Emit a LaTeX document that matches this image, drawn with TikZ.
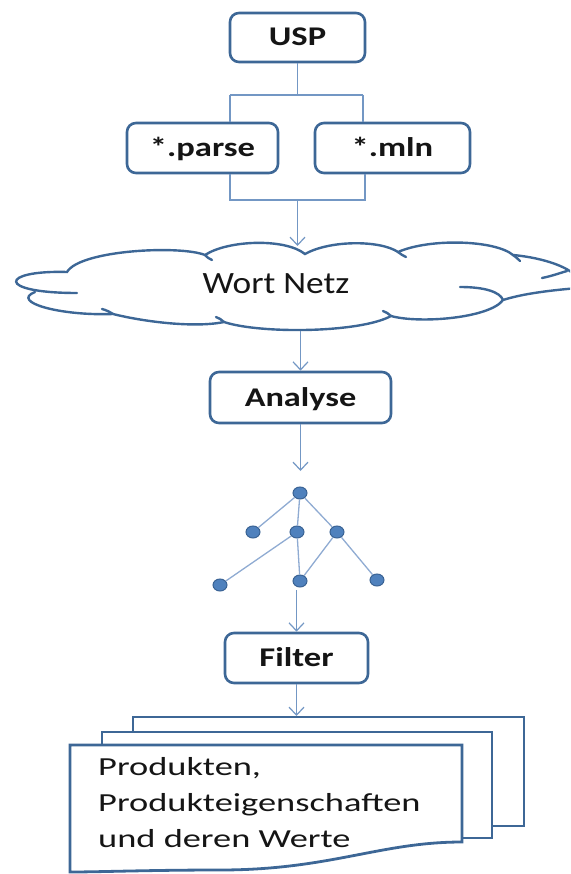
\documentclass[tikz,border=0pt]{standalone}
\usepackage{fontspec}
\setmainfont{Carlito}
\usetikzlibrary{arrows.meta,shapes.geometric}
\definecolor{boxline}{HTML}{3D6796}
\definecolor{connline}{HTML}{7397C4}
\definecolor{treeline}{HTML}{8FABD2}
\definecolor{dotfill}{HTML}{4F81BD}
\definecolor{dotline}{HTML}{3A6394}
\definecolor{ink}{HTML}{151515}
\newcommand{\wide}[2]{\scalebox{#1}[1]{#2}}
\begin{document}
\begin{tikzpicture}[x=1pt,y=-1pt,
  stepbox/.style={draw=boxline, line width=2.6pt, rounded corners=9pt, fill=white,
    inner sep=0pt, text=ink, font=\fontsize{27}{32}\selectfont\bfseries,
    text height=17pt, text depth=0pt},
  conn/.style={draw=connline, line width=1.2pt},
  arr/.style={conn, -{Straight Barb[length=8pt,width=15pt]}},
  cloudline/.style={draw=boxline, line width=2.4pt, line cap=round},
  pageline/.style={draw=boxline, line width=2.8pt, fill=white, line join=miter},
  treeedge/.style={draw=treeline, line width=1.3pt},
  dot/.style={ellipse, draw=dotline, fill=dotfill, line width=1pt,
    minimum width=14pt, minimum height=12pt, inner sep=0pt}]
\path[use as bounding box] (0,0) rectangle (570,874);
\clip (0,0) rectangle (570,874);

% --- process boxes
\node[stepbox, minimum width=135pt, minimum height=49pt] (usp) at (297.5,37.5) {\wide{1.28}{USP}};
\node[stepbox, minimum width=151pt, minimum height=50pt] (parse) at (202.5,148) {\wide{1.28}{*.parse}};
\node[stepbox, minimum width=155pt, minimum height=50pt] (mln) at (392.5,148) {\wide{1.28}{*.mln}};
\node[stepbox, minimum width=181pt, minimum height=51pt] (analyse) at (300.5,397.5) {\wide{1.27}{Analyse}};
\node[stepbox, minimum width=143pt, minimum height=50pt] (filter) at (296.5,658) {\wide{1.28}{Filter}};

% --- split from USP to the two files
\coordinate (splitL) at (230,95);
\coordinate (splitR) at (363,95);
\draw[conn] (usp.south) -- (usp.south |- splitL);
\draw[conn] (splitL) -- (splitR);
\draw[conn] (splitL) -- (splitL |- parse.north);
\draw[conn] (splitR) -- (splitR |- mln.north);

% --- merge of the two files into the word net
\coordinate (joinL) at (230,200);
\coordinate (joinR) at (365,200);
\coordinate (joinM) at (297.5,200);
\coordinate (cloudtop) at (297.5,246);
\draw[conn] (joinL |- parse.south) -- (joinL) -- (joinR) -- (joinR |- mln.south);
\draw[arr] (joinM) -- (cloudtop);

% --- cloud outline
\draw[cloudline]
  (35,292) .. controls (10,302) and (60,316) .. (113,314)
  .. controls (145,322) and (195,328) .. (224,322)
  .. controls (260,334) and (360,333) .. (391,316)
  .. controls (420,324) and (490,318) .. (503,300)
  .. controls (525,293) and (555,290) .. (578,288);
\draw[cloudline]
  (578,279) .. controls (572,268) and (545,258) .. (513,255)
  .. controls (495,240) and (430,238) .. (398,252)
  .. controls (380,240) and (330,240) .. (305,254)
  .. controls (285,238) and (228,240) .. (205,255)
  .. controls (180,245) and (80,250) .. (67,272)
  .. controls (0,270) and (-5,293) .. (77,293);
% inner strokes of the cloud
\draw[cloudline] (503,300) .. controls (500,292) and (485,287) .. (460,287);
\draw[cloudline] (542,278) .. controls (552,276) and (560,273) .. (567,271);
\draw[cloudline] (205,255) .. controls (207,257) and (209,259) .. (212,260);
\draw[cloudline] (398,252) .. controls (401,254) and (403,256) .. (406,257);
\draw[cloudline] (513,255) .. controls (516,257) and (518,259) .. (520,261);
\draw[cloudline] (224,322) .. controls (222,320) and (219,318) .. (216,317);
\draw[cloudline] (391,316) .. controls (389,314) and (386,312) .. (383,311);
\draw[cloudline] (113,314) .. controls (110,312) and (106,310) .. (102,309);

\node[font=\fontsize{31}{36}\selectfont, text=ink, anchor=base, inner sep=0pt] (wort) at (276,293) {\wide{1.14}{Wort Netz}};

% --- analysis
\coordinate (cloudbot) at (300.5,331);
\coordinate (treetop) at (300.5,471);
\draw[arr] (cloudbot) -- (analyse.north);
\draw[arr] (analyse.south) -- (treetop);

% --- result tree
\node[dot] (t0) at (300,493) {};
\node[dot] (t1) at (253,532) {};
\node[dot] (t2) at (297,532) {};
\node[dot] (t3) at (337,532) {};
\node[dot] (t4) at (220,585) {};
\node[dot] (t5) at (300,581) {};
\node[dot] (t6) at (377,580) {};
\draw[treeedge] (t0) -- (t1);
\draw[treeedge] (t0) -- (t2);
\draw[treeedge] (t0) -- (t3);
\draw[treeedge] (t2) -- (t4);
\draw[treeedge] (t2) -- (t5);
\draw[treeedge] (t3) -- (t5);
\draw[treeedge] (t3) -- (t6);

\coordinate (treebot) at (296.5,590);
\draw[arr] (treebot) -- (filter.north);

% --- stack of output documents
\draw[pageline] (133,717) rectangle (524,826);
\draw[pageline] (102,732) rectangle (492,838);
\draw[pageline] (70,745) -- (462,745) -- (462,842)
  .. controls (380,842) and (330,870) .. (220,870)
  .. controls (150,870) and (100,872) .. (70,872) -- cycle;
\coordinate (docstop) at (296.5,716);
\draw[arr] (filter.south) -- (docstop);

\node[anchor=north west, inner sep=0pt, text=ink, font=\fontsize{26}{36}\selectfont] (doctext) at (98,750)
  {\wide{1.4}{\begin{tabular}{@{}l@{}}Produkten,\\Produkteigenschaften\\und deren Werte\end{tabular}}};
\end{tikzpicture}
\end{document}
